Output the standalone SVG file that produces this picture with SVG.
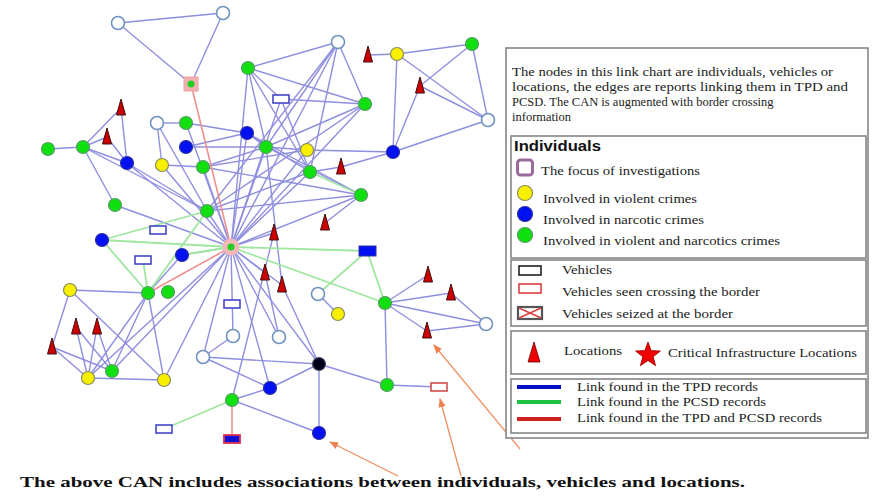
<svg xmlns="http://www.w3.org/2000/svg" width="873" height="496" viewBox="0 0 873 496">
<defs>
<style>
.e line{stroke:#8f8fe0;stroke-width:1.4}
.g line{stroke:#9fe79f;stroke-width:1.8}
.r line{stroke:#f09090;stroke-width:1.6}
.nw{fill:#fff;stroke:#6f93c0;stroke-width:1.6}
.ny{fill:#f8f000;stroke:#8a8a60;stroke-width:1.2}
.nb{fill:#0010f0;stroke:#3030a0;stroke-width:1.2}
.ng{fill:#10e010;stroke:#5a9a6a;stroke-width:1.2}
.nk{fill:#000018;stroke:#505070;stroke-width:1.2}
.tri{fill:#cc0000;stroke:#401010;stroke-width:1}
.veh{fill:#fff;stroke:#3a3ac8;stroke-width:1.5}
.t{font-family:"Liberation Serif",serif;font-size:12.5px;fill:#222}
.box{fill:#fff;stroke:#858585;stroke-width:1.6}
.arr{stroke:#ee9060;stroke-width:1.3;fill:none;marker-end:url(#ah)}
</style>
<marker id="ah" viewBox="0 0 10 10" refX="9" refY="5" markerWidth="7" markerHeight="7" orient="auto"><path d="M0,1 L10,5 L0,9 z" fill="#ee8050"/></marker>
<polygon id="tr" points="0,-9 4.5,7 -4.5,7"/>
</defs>
<rect width="873" height="496" fill="#fff"/>
<g id="connectors">
<g class="e">
<line x1="118" y1="23" x2="223" y2="13"/><line x1="118" y1="23" x2="191" y2="84"/><line x1="223" y1="13" x2="191" y2="84"/>
<line x1="48" y1="149" x2="83" y2="147"/><line x1="83" y1="147" x2="121" y2="108"/><line x1="83" y1="147" x2="107" y2="137"/>
<line x1="83" y1="147" x2="115" y2="205"/><line x1="83" y1="147" x2="127" y2="163"/><line x1="83" y1="147" x2="207" y2="211"/>
<line x1="121" y1="108" x2="127" y2="163"/><line x1="107" y1="137" x2="127" y2="163"/>
<line x1="127" y1="163" x2="231" y2="247"/><line x1="127" y1="163" x2="207" y2="211"/>
<line x1="157" y1="123" x2="186" y2="123"/><line x1="157" y1="123" x2="162" y2="165"/><line x1="157" y1="123" x2="207" y2="211"/>
<line x1="186" y1="123" x2="247" y2="133"/><line x1="186" y1="123" x2="231" y2="247"/>
<line x1="186" y1="147" x2="247" y2="133"/><line x1="186" y1="147" x2="266" y2="147"/>
<line x1="162" y1="165" x2="231" y2="247"/><line x1="162" y1="165" x2="203" y2="167"/>
<line x1="203" y1="167" x2="231" y2="247"/><line x1="203" y1="167" x2="266" y2="147"/><line x1="203" y1="167" x2="307" y2="150"/><line x1="203" y1="167" x2="361" y2="195"/>
<line x1="247" y1="133" x2="266" y2="147"/><line x1="247" y1="133" x2="231" y2="247"/><line x1="247" y1="133" x2="361" y2="195"/><line x1="247" y1="133" x2="310" y2="172"/>
<line x1="266" y1="147" x2="231" y2="247"/><line x1="266" y1="147" x2="361" y2="195"/><line x1="266" y1="147" x2="365" y2="104"/><line x1="266" y1="147" x2="307" y2="150"/>
<line x1="248" y1="68" x2="338" y2="42"/><line x1="248" y1="68" x2="365" y2="104"/><line x1="248" y1="68" x2="266" y2="147"/><line x1="248" y1="68" x2="310" y2="172"/><line x1="248" y1="68" x2="231" y2="247"/><line x1="248" y1="68" x2="281" y2="99"/>
<line x1="338" y1="42" x2="365" y2="104"/><line x1="338" y1="42" x2="266" y2="147"/><line x1="338" y1="42" x2="231" y2="247"/><line x1="338" y1="42" x2="310" y2="172"/><line x1="338" y1="42" x2="207" y2="211"/>
<line x1="281" y1="99" x2="365" y2="104"/><line x1="281" y1="99" x2="231" y2="247"/><line x1="281" y1="99" x2="310" y2="172"/>
<line x1="365" y1="104" x2="231" y2="247"/><line x1="365" y1="104" x2="207" y2="211"/>
<line x1="307" y1="150" x2="393" y2="152"/><line x1="307" y1="150" x2="231" y2="247"/>
<line x1="341" y1="167" x2="393" y2="152"/><line x1="341" y1="167" x2="310" y2="172"/>
<line x1="393" y1="152" x2="397" y2="54"/><line x1="393" y1="152" x2="488" y2="120"/><line x1="393" y1="152" x2="420" y2="86"/>
<line x1="397" y1="54" x2="368" y2="55"/><line x1="397" y1="54" x2="472" y2="44"/><line x1="397" y1="54" x2="488" y2="120"/>
<line x1="420" y1="86" x2="488" y2="120"/><line x1="420" y1="86" x2="472" y2="44"/><line x1="472" y1="44" x2="488" y2="120"/>
<line x1="310" y1="172" x2="231" y2="247"/><line x1="310" y1="172" x2="207" y2="211"/>
<line x1="361" y1="195" x2="231" y2="247"/><line x1="361" y1="195" x2="325" y2="223"/><line x1="361" y1="195" x2="207" y2="211"/>
<line x1="207" y1="211" x2="231" y2="247"/><line x1="115" y1="205" x2="231" y2="247"/>
<line x1="274" y1="233" x2="231" y2="247"/><line x1="265" y1="273" x2="231" y2="247"/><line x1="282" y1="285" x2="231" y2="247"/>
<line x1="265" y1="273" x2="279" y2="337"/><line x1="282" y1="285" x2="266" y2="147"/><line x1="282" y1="285" x2="319" y2="364"/>
<line x1="274" y1="233" x2="232" y2="400"/>
<line x1="231" y1="247" x2="233" y2="336"/><line x1="231" y1="247" x2="203" y2="357"/><line x1="231" y1="247" x2="270" y2="388"/>
<line x1="231" y1="247" x2="319" y2="364"/><line x1="231" y1="247" x2="279" y2="337"/><line x1="231" y1="247" x2="164" y2="380"/>
<line x1="231" y1="247" x2="112" y2="371"/><line x1="231" y1="247" x2="88" y2="378"/><line x1="231" y1="247" x2="182" y2="255"/>
<line x1="203" y1="357" x2="233" y2="336"/><line x1="203" y1="357" x2="319" y2="364"/><line x1="203" y1="357" x2="270" y2="388"/>
<line x1="270" y1="388" x2="319" y2="364"/><line x1="319" y1="364" x2="387" y2="385"/><line x1="319" y1="364" x2="319" y2="433"/>
<line x1="232" y1="400" x2="319" y2="433"/><line x1="232" y1="400" x2="270" y2="388"/>
<line x1="387" y1="385" x2="439" y2="387"/><line x1="387" y1="385" x2="385" y2="303"/>
<line x1="385" y1="303" x2="428" y2="275"/><line x1="385" y1="303" x2="451" y2="293"/><line x1="385" y1="303" x2="486" y2="324"/><line x1="385" y1="303" x2="427" y2="331"/>
<line x1="451" y1="293" x2="486" y2="324"/><line x1="427" y1="331" x2="486" y2="324"/>
<line x1="318" y1="294" x2="338" y2="314"/>
<line x1="70" y1="290" x2="148" y2="293"/><line x1="70" y1="290" x2="52" y2="347"/><line x1="70" y1="290" x2="164" y2="380"/>
<line x1="52" y1="347" x2="88" y2="378"/><line x1="52" y1="347" x2="112" y2="371"/>
<line x1="76" y1="327" x2="88" y2="378"/><line x1="76" y1="327" x2="112" y2="371"/>
<line x1="97" y1="327" x2="88" y2="378"/><line x1="97" y1="327" x2="112" y2="371"/>
<line x1="88" y1="378" x2="164" y2="380"/><line x1="148" y1="293" x2="88" y2="378"/><line x1="148" y1="293" x2="112" y2="371"/><line x1="148" y1="293" x2="164" y2="380"/>
<line x1="148" y1="293" x2="182" y2="255"/>
</g>
<g class="g">
<line x1="102" y1="240" x2="207" y2="211"/><line x1="102" y1="240" x2="231" y2="247"/><line x1="102" y1="240" x2="148" y2="293"/>
<line x1="148" y1="293" x2="207" y2="211"/><line x1="148" y1="293" x2="143" y2="260"/><line x1="182" y1="255" x2="231" y2="247"/>
<line x1="231" y1="247" x2="367" y2="251"/><line x1="231" y1="247" x2="385" y2="303"/><line x1="367" y1="251" x2="385" y2="303"/>
<line x1="367" y1="251" x2="318" y2="294"/><line x1="310" y1="172" x2="361" y2="195"/><line x1="232" y1="400" x2="164" y2="429"/>
</g>
<g class="r">
<line x1="191" y1="84" x2="231" y2="247"/><line x1="148" y1="293" x2="231" y2="247"/><line x1="232" y1="400" x2="232" y2="439"/>
</g>
<g id="arrows">
<line class="arr" x1="398" y1="476" x2="330" y2="442"/>
<line class="arr" x1="461" y1="476" x2="440" y2="399"/>
<line class="arr" x1="520" y1="449" x2="434" y2="345"/>
</g>
</g>
<g id="nodes">
<g id="n-w1"><circle class="nw" cx="118" cy="23" r="6.5"/></g>
<g id="n-w2"><circle class="nw" cx="223" cy="13" r="6.5"/></g>
<g id="n-f1"><rect x="184" y="77" width="14" height="14" fill="#f2b0b0" stroke="#e8a0a0"/><circle cx="191" cy="84" r="3.5" fill="#20d020"/></g>
<g id="n-w3"><circle class="nw" cx="338" cy="42" r="6.5"/></g>
<g id="n-t1"><use href="#tr" class="tri" x="368" y="55"/></g>
<g id="n-y1"><circle class="ny" cx="397" cy="54" r="6.5"/></g>
<g id="n-g1"><circle class="ng" cx="472" cy="44" r="6.5"/></g>
<g id="n-t2"><use href="#tr" class="tri" x="420" y="86"/></g>
<g id="n-w4"><circle class="nw" cx="488" cy="120" r="6.5"/></g>
<g id="n-g2"><circle class="ng" cx="248" cy="68" r="6.5"/></g>
<g id="n-v1"><rect class="veh" x="273" y="95" width="16" height="8"/></g>
<g id="n-g3"><circle class="ng" cx="365" cy="104" r="6.5"/></g>
<g id="n-b1"><circle class="nb" cx="393" cy="152" r="6.5"/></g>
<g id="n-t3"><use href="#tr" class="tri" x="121" y="108"/></g>
<g id="n-t4"><use href="#tr" class="tri" x="107" y="137"/></g>
<g id="n-w5"><circle class="nw" cx="157" cy="123" r="6.5"/></g>
<g id="n-g4"><circle class="ng" cx="186" cy="123" r="6.5"/></g>
<g id="n-g5"><circle class="ng" cx="48" cy="149" r="6.5"/></g>
<g id="n-g6"><circle class="ng" cx="83" cy="147" r="6.5"/></g>
<g id="n-b2"><circle class="nb" cx="186" cy="147" r="6.5"/></g>
<g id="n-b3"><circle class="nb" cx="247" cy="133" r="6.5"/></g>
<g id="n-b4"><circle class="nb" cx="127" cy="163" r="6.5"/></g>
<g id="n-y2"><circle class="ny" cx="162" cy="165" r="6.5"/></g>
<g id="n-g7"><circle class="ng" cx="266" cy="147" r="6.5"/></g>
<g id="n-y3"><circle class="ny" cx="307" cy="150" r="6.5"/></g>
<g id="n-g8"><circle class="ng" cx="203" cy="167" r="6.5"/></g>
<g id="n-g9"><circle class="ng" cx="310" cy="172" r="6.5"/></g>
<g id="n-t5"><use href="#tr" class="tri" x="341" y="167"/></g>
<g id="n-g10"><circle class="ng" cx="361" cy="195" r="6.5"/></g>
<g id="n-g11"><circle class="ng" cx="115" cy="205" r="6.5"/></g>
<g id="n-g12"><circle class="ng" cx="207" cy="211" r="6.5"/></g>
<g id="n-v2"><rect class="veh" x="150" y="226" width="16" height="8"/></g>
<g id="n-b5"><circle class="nb" cx="102" cy="240" r="6.5"/></g>
<g id="n-v3"><rect class="veh" x="135" y="256" width="16" height="8"/></g>
<g id="n-b6"><circle class="nb" cx="182" cy="255" r="6.5"/></g>
<g id="n-t6"><use href="#tr" class="tri" x="325" y="223"/></g>
<g id="n-t7"><use href="#tr" class="tri" x="274" y="233"/></g>
<g id="n-hub"><circle cx="231" cy="247" r="8.5" fill="#f4b8b8"/><circle cx="231" cy="247" r="3.5" fill="#20d020"/></g>
<g id="n-br"><rect x="359" y="246" width="17" height="10" fill="#0010f0" stroke="#3030a0"/></g>
<g id="n-y4"><circle class="ny" cx="70" cy="290" r="6.5"/></g>
<g id="n-g13"><circle class="ng" cx="148" cy="293" r="6.5"/></g>
<g id="n-g14"><circle class="ng" cx="168" cy="292" r="6.5"/></g>
<g id="n-v4"><rect class="veh" x="224" y="300" width="16" height="8"/></g>
<g id="n-t8"><use href="#tr" class="tri" x="265" y="273"/></g>
<g id="n-t9"><use href="#tr" class="tri" x="282" y="285"/></g>
<g id="n-w6"><circle class="nw" cx="318" cy="294" r="6.5"/></g>
<g id="n-y5"><circle class="ny" cx="338" cy="314" r="6.5"/></g>
<g id="n-g15"><circle class="ng" cx="385" cy="303" r="6.5"/></g>
<g id="n-t10"><use href="#tr" class="tri" x="428" y="275"/></g>
<g id="n-t11"><use href="#tr" class="tri" x="451" y="293"/></g>
<g id="n-w7"><circle class="nw" cx="486" cy="324" r="6.5"/></g>
<g id="n-t12"><use href="#tr" class="tri" x="427" y="331"/></g>
<g id="n-t13"><use href="#tr" class="tri" x="76" y="327"/></g>
<g id="n-t14"><use href="#tr" class="tri" x="97" y="327"/></g>
<g id="n-t15"><use href="#tr" class="tri" x="52" y="347"/></g>
<g id="n-w8"><circle class="nw" cx="233" cy="336" r="6.5"/></g>
<g id="n-w9"><circle class="nw" cx="279" cy="337" r="6.5"/></g>
<g id="n-w10"><circle class="nw" cx="203" cy="357" r="6.5"/></g>
<g id="n-k"><circle class="nk" cx="319" cy="364" r="6.5"/></g>
<g id="n-y6"><circle class="ny" cx="88" cy="378" r="6.5"/></g>
<g id="n-g16"><circle class="ng" cx="112" cy="371" r="6.5"/></g>
<g id="n-y7"><circle class="ny" cx="164" cy="380" r="6.5"/></g>
<g id="n-b7"><circle class="nb" cx="270" cy="388" r="6.5"/></g>
<g id="n-g17"><circle class="ng" cx="387" cy="385" r="6.5"/></g>
<g id="n-v5"><rect x="431" y="383" width="16" height="8" fill="#fff" stroke="#d04040" stroke-width="1.5"/></g>
<g id="n-g18"><circle class="ng" cx="232" cy="400" r="6.5"/></g>
<g id="n-v6"><rect class="veh" x="156" y="425" width="16" height="8"/></g>
<g id="n-vr"><rect x="224" y="435" width="16" height="8" fill="#1010d0" stroke="#e03050" stroke-width="1.8"/></g>
<g id="n-b8"><circle class="nb" cx="319" cy="433" r="6.5"/></g>
</g>
<g id="legend">
<rect class="box" x="506" y="48" width="362" height="390"/>
<text class="t" x="512" y="76" textLength="321" lengthAdjust="spacingAndGlyphs">The nodes in this link chart are individuals, vehicles or</text>
<text class="t" x="512" y="91" textLength="336" lengthAdjust="spacingAndGlyphs">locations, the edges are reports linking them in TPD and</text>
<text class="t" x="512" y="106">PCSD. The CAN is augmented with border crossing</text>
<text class="t" x="512" y="121">information</text>
<rect class="box" x="511" y="136" width="355" height="122"/>
<text x="514" y="151" font-family="Liberation Sans,Arial,sans-serif" font-weight="bold" font-size="14.5" fill="#111" textLength="87" lengthAdjust="spacingAndGlyphs">Individuals</text>
<rect x="517.5" y="160" width="15" height="15" rx="3" fill="#fff" stroke="#9a6a9a" stroke-width="3"/>
<text class="t" x="541" y="175" textLength="159" lengthAdjust="spacingAndGlyphs">The focus of investigations</text>
<circle class="ny" cx="525" cy="193" r="7.5"/>
<text class="t" x="543" y="203" textLength="154" lengthAdjust="spacingAndGlyphs">Involved in violent crimes</text>
<circle class="nb" cx="525" cy="214" r="7.5"/>
<text class="t" x="543" y="224" textLength="161" lengthAdjust="spacingAndGlyphs">Involved in narcotic crimes</text>
<circle class="ng" cx="525" cy="235" r="7.5"/>
<text class="t" x="543" y="245" textLength="237" lengthAdjust="spacingAndGlyphs">Involved in violent and narcotics crimes</text>
<rect class="box" x="511" y="260" width="355" height="66"/>
<rect x="519" y="266" width="22" height="9" fill="#fff" stroke="#222" stroke-width="1.6"/>
<text class="t" x="562" y="274" textLength="50" lengthAdjust="spacingAndGlyphs">Vehicles</text>
<rect x="519" y="284" width="22" height="9" fill="#fff" stroke="#dd4040" stroke-width="1.6"/>
<text class="t" x="562" y="296" textLength="198" lengthAdjust="spacingAndGlyphs">Vehicles seen crossing the border</text>
<rect x="518" y="307" width="24" height="12" fill="#fff" stroke="#555" stroke-width="2.2"/>
<path d="M519,308 L541,318 M541,308 L519,318" stroke="#dd4040" stroke-width="1.5"/>
<text class="t" x="562" y="318" textLength="171" lengthAdjust="spacingAndGlyphs">Vehicles seized at the border</text>
<rect class="box" x="511" y="331" width="355" height="43"/>
<polygon points="534,342 540,362 528,362" fill="#ee0000" stroke="#600" stroke-width="0.8"/>
<text class="t" x="564" y="355" textLength="58" lengthAdjust="spacingAndGlyphs">Locations</text>
<polygon points="648,342 651.2,350.6 660.4,351 653.2,356.8 655.6,365.7 648,360.5 640.4,365.7 642.8,356.8 635.6,351 644.8,350.6" fill="#ee0000" stroke="#900" stroke-width="0.8"/>
<text class="t" x="668" y="357" textLength="189" lengthAdjust="spacingAndGlyphs">Critical Infrastructure Locations</text>
<rect class="box" x="511" y="379" width="355" height="54"/>
<line x1="517" y1="387" x2="561" y2="387" stroke="#0010c0" stroke-width="4"/>
<text class="t" x="577" y="391" textLength="181" lengthAdjust="spacingAndGlyphs">Link found in the TPD records</text>
<line x1="517" y1="402" x2="561" y2="402" stroke="#20c040" stroke-width="4"/>
<text class="t" x="577" y="406" textLength="189" lengthAdjust="spacingAndGlyphs">Link found in the PCSD records</text>
<line x1="517" y1="419" x2="561" y2="419" stroke="#d02020" stroke-width="4"/>
<text class="t" x="577" y="422" textLength="245" lengthAdjust="spacingAndGlyphs">Link found in the TPD and PCSD records</text>
</g>
<text x="20" y="487" font-family="Liberation Serif,serif" font-weight="bold" font-size="15" fill="#111" textLength="725" lengthAdjust="spacingAndGlyphs">The above CAN includes associations between individuals, vehicles and locations.</text>
</svg>
